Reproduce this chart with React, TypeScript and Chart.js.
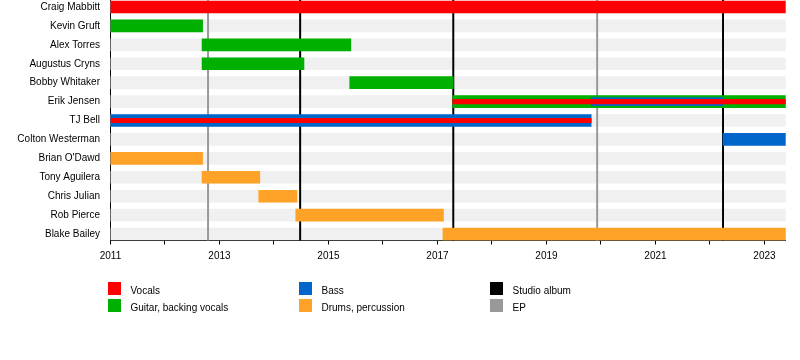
import React, { useEffect, useRef } from 'react';
import { Chart, registerables } from 'chart.js';

Chart.register(...registerables);

// ---- data ----
const START = 2011;
const END = 2023.39;

const members: string[] = [
  'Craig Mabbitt',
  'Kevin Gruft',
  'Alex Torres',
  'Augustus Cryns',
  'Bobby Whitaker',
  'Erik Jensen',
  'TJ Bell',
  'Colton Westerman',
  "Brian O'Dawd",
  'Tony Aguilera',
  'Chris Julian',
  'Rob Pierce',
  'Blake Bailey',
];

type Span = [string, number, number];

const vocals: Span[] = [['Craig Mabbitt', 2011, END]];
const guitar: Span[] = [
  ['Kevin Gruft', 2011, 2012.69],
  ['Alex Torres', 2012.68, 2015.41],
  ['Augustus Cryns', 2012.68, 2014.55],
  ['Bobby Whitaker', 2015.39, 2017.29],
  ['Erik Jensen', 2017.28, END],
];
const bass: Span[] = [
  ['TJ Bell', 2011, 2019.82],
  ['Colton Westerman', 2022.24, END],
];
const drums: Span[] = [
  ["Brian O'Dawd", 2011, 2012.69],
  ['Tony Aguilera', 2012.68, 2013.74],
  ['Chris Julian', 2013.72, 2014.42],
  ['Rob Pierce', 2014.4, 2017.11],
  ['Blake Bailey', 2017.1, END],
];
const bassSecondary: Span[] = [['Erik Jensen', 2019.82, 2022.24]];
const vocalsSecondary: Span[] = [
  ['Erik Jensen', 2017.28, END],
  ['TJ Bell', 2011, 2019.82],
];

const studioAlbums: number[] = [2014.48, 2017.29, 2022.24];
const eps: number[] = [2012.79, 2019.93];

const legendLabels: string[] = ['Vocals', 'Guitar, backing vocals', 'Bass', 'Drums, percussion', 'Studio album', 'EP'];

// ---- styles ----
const COLORS = {
  vocals: '#ff0000',
  guitar: '#00b000',
  bass: '#0066cc',
  drums: '#ffa328',
  studio: '#000000',
  ep: '#999999',
  bg: '#f0f0f0',
};
const legendColors = [COLORS.vocals, COLORS.guitar, COLORS.bass, COLORS.drums, COLORS.studio, COLORS.ep];
const FONT = '"Liberation Sans", Arial, Helvetica, sans-serif';

const toPoints = (spans: Span[]) => spans.map(([m, a, b]) => ({ y: members.indexOf(m), x: [a, b] }));

const linesPlugin = {
  id: 'releaseLines',
  afterDatasetDraw(chart: any, args: any) {
    const ds = chart.data.datasets[args.index];
    if (!ds || ds.label !== 'background') return;
    const { ctx, chartArea, scales } = chart;
    const x = scales.x;
    ctx.save();
    const draw = (vals: number[], color: string) => {
      vals.forEach((v) => {
        const px = x.getPixelForValue(v);
        ctx.beginPath();
        ctx.strokeStyle = color;
        ctx.lineWidth = 2;
        ctx.moveTo(px, chartArea.top);
        ctx.lineTo(px, chartArea.bottom);
        ctx.stroke();
      });
    };
    draw(eps, COLORS.ep);
    draw(studioAlbums, COLORS.studio);
    ctx.restore();
  },
};

export default function App() {
  const ref = useRef<HTMLCanvasElement | null>(null);

  useEffect(() => {
    if (!ref.current) return;
    const bar = (label: string, spans: Span[], color: string, thick: number, order: number) => ({
      label,
      data: toPoints(spans),
      backgroundColor: color,
      borderWidth: 0,
      maxBarThickness: thick,
      barPercentage: 1,
      categoryPercentage: 1,
      grouped: false,
      order,
    });
    const chart = new Chart(ref.current, {
      type: 'bar',
      data: {
        datasets: [
          bar('vocals2', vocalsSecondary, COLORS.vocals, 4.5, 1),
          bar('bass2', bassSecondary, COLORS.bass, 8, 2),
          bar('vocals', vocals, COLORS.vocals, 12, 5),
          bar('guitar', guitar, COLORS.guitar, 12, 5),
          bar('bass', bass, COLORS.bass, 12, 5),
          bar('drums', drums, COLORS.drums, 12, 5),
          bar('background', members.map((m) => [m, START, END] as Span), COLORS.bg, 12, 10),
        ] as any,
      },
      plugins: [linesPlugin],
      options: {
        indexAxis: 'y',
        animation: false,
        responsive: false,
        devicePixelRatio: 1,
        events: [],
        layout: { padding: { top: 0, left: 0, right: 14.3, bottom: 0 } },
        plugins: { legend: { display: false }, tooltip: { enabled: false } },
        scales: {
          x: {
            type: 'linear',
            min: START,
            max: END,
            offset: false,
            grid: { display: true, drawOnChartArea: false, drawTicks: true, tickLength: 4, color: '#000', offset: false },
            border: { display: true, color: '#000', width: 1 },
            ticks: {
              stepSize: 1,
              includeBounds: false,
              autoSkip: false,
              maxRotation: 0,
              padding: 6,
              color: '#000',
              font: { family: FONT, size: 10 },
              callback: (v: any) => (Number(v) % 2 === 1 ? String(v) : ''),
            },
            afterFit: (s: any) => {
              s.height = 119.5;
              s.paddingLeft = 0;
              s.paddingRight = 0;
            },
          },
          y: {
            type: 'linear',
            reverse: true,
            min: -0.37,
            max: 12.341,
            offset: false,
            grid: { display: false, drawTicks: false, tickLength: 0, offset: false },
            border: { display: true, color: '#000', width: 1 },
            ticks: {
              stepSize: 1,
              includeBounds: false,
              autoSkip: false,
              padding: 10.5,
              color: '#000',
              font: { family: FONT, size: 10 },
              callback: (v: any) => {
                const n = Number(v);
                return Number.isInteger(n) && members[n] !== undefined ? members[n] : null;
              },
            },
            afterFit: (s: any) => {
              s.width = 110.5;
              s.paddingTop = 0;
              s.paddingBottom = 0;
            },
          },
        },
      } as any,
    });
    return () => chart.destroy();
  }, []);

  const colX = [108, 299, 490];
  const rowY = [282, 299];

  return (
    <div style={{ position: 'fixed', left: 0, top: 0, width: 800, height: 360, background: '#fff' }}>
      <canvas ref={ref} width={800} height={360} style={{ display: 'block', width: 800, height: 360 }} />
      {legendLabels.map((label, i) => {
        const col = Math.floor(i / 2);
        const row = i % 2;
        const x = colX[col];
        const y = rowY[row];
        return (
          <React.Fragment key={label}>
            <div
              style={{ position: 'absolute', left: x, top: y, width: 13, height: 13, background: legendColors[i] }}
            />
            <div
              style={{
                position: 'absolute',
                left: x + 22.5,
                top: y + 2,
                lineHeight: '13px',
                fontSize: 10,
                fontFamily: FONT,
                color: '#000',
                whiteSpace: 'nowrap',
              }}
            >
              {label}
            </div>
          </React.Fragment>
        );
      })}
    </div>
  );
}
